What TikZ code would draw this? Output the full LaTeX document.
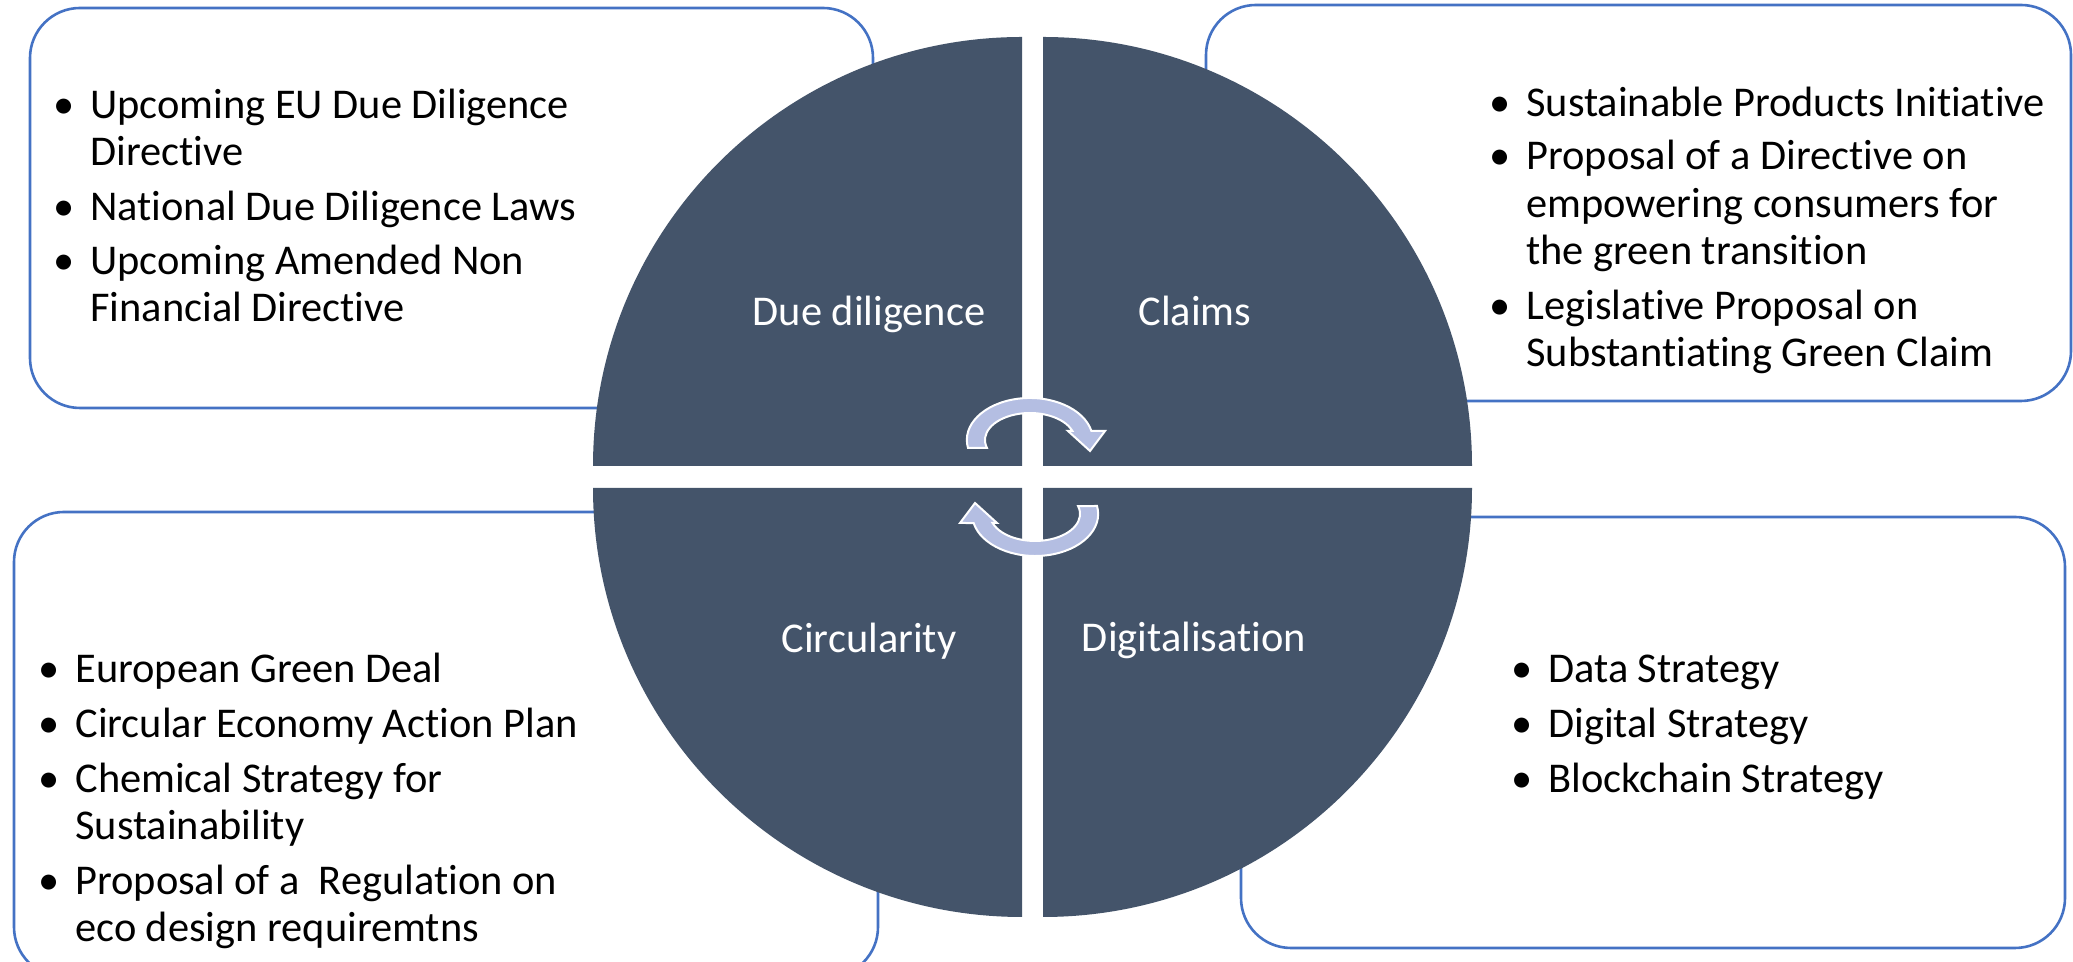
\documentclass[tikz,border=0pt]{standalone}
\usepackage{fontspec}
\setmainfont{Carlito}[Ligatures={NoCommon,NoContextual}]

\definecolor{slate}{HTML}{44546A}
\definecolor{boxblue}{HTML}{4472C4}
\definecolor{lilac}{HTML}{B4BEE2}

\tikzset{
  panel/.style={draw=boxblue, line width=1.3pt, rounded corners=25pt, fill=white},
  quarter/.style={fill=slate},
  swirl/.style={fill=lilac, draw=white, line width=1pt},
  item/.style={anchor=base west, inner sep=0pt, font=\fontsize{21.2}{23}\selectfont},
  dot/.style={anchor=base west, inner sep=0pt, font=\fontsize{21.2}{23}\selectfont},
  tag/.style={anchor=base, inner sep=0pt, text=white, font=\fontsize{21.2}{23}\selectfont}
}

% one line of a list, with its bullet
\newcommand{\bline}[4]{\node[item] (#1) at (#2,#3) {#4};
  \node[dot] (#1-dot) at ([xshift=-18.5pt]#1.base west) {\textbullet};}
% one line without a bullet
\newcommand{\pline}[4]{\node[item] (#1) at (#2,#3) {#4};}

% circular arrow over the top
\newcommand{\swirlpath}{(968,514) arc[start angle=191, end angle=12.4, x radius=63, y radius=42]
  -- (1105,531) -- (1090,511) -- (1068,531) -- (1072.4,531)
  arc[start angle=19.5, end angle=197, x radius=45, y radius=27] -- cycle}

\begin{document}
\begin{tikzpicture}[x=0.5pt, y=0.5pt]

  \useasboundingbox (0,0) rectangle (2073,962);
  \clip (0,0) rectangle (2073,962);

  % the four boxes
  \draw[panel] (30,554) rectangle (873,954);    % top left
  \draw[panel] (1206,561) rectangle (2071,957); % top right
  \draw[panel] (14,-15) rectangle (878,450);    % bottom left
  \draw[panel] (1241,14) rectangle (2065,445);  % bottom right

  % the four quarters of the disc
  \fill[quarter] (1022,496) -- (593,496) arc[start angle=180, end angle=90, radius=429] -- cycle;
  \fill[quarter] (1043,496) -- (1043,925) arc[start angle=90, end angle=0, radius=429] -- cycle;
  \fill[quarter] (1022,474) -- (1022,45) arc[start angle=270, end angle=180, radius=429] -- cycle;
  \fill[quarter] (1043,474) -- (1472,474) arc[start angle=0, end angle=-90, radius=429] -- cycle;

  % arrows in the middle
  \filldraw[swirl] \swirlpath;
  \begin{scope}[rotate around={180:(1032.5,485)}]
    \filldraw[swirl] \swirlpath;
  \end{scope}

  % names of the quarters
  \node[tag] (due) at (869,636) {Due diligence};
  \node[tag] (claims) at (1195,636) {Claims};
  \node[tag] (circ) at (869,309) {Circularity};
  \node[tag] (digi) at (1194,310) {Digitalisation};

  % top left list
  \bline{dd1}{90}{843}{Upcoming EU Due Diligence}
  \pline{dd1b}{90}{796}{Directive}
  \bline{dd2}{90}{741}{National Due Diligence Laws}
  \bline{dd3}{90}{687}{Upcoming Amended Non}
  \pline{dd3b}{90}{640}{Financial Directive}

  % top right list
  \bline{cl1}{1526}{845}{Sustainable Products Initiative}
  \bline{cl2}{1526}{792}{Proposal of a Directive on}
  \pline{cl2b}{1526}{744}{empowering consumers for}
  \pline{cl2c}{1526}{697}{the green transition}
  \bline{cl3}{1526}{642}{Legislative Proposal on}
  \pline{cl3b}{1526}{595}{Substantiating Green Claim}

  % bottom left list
  \bline{ci1}{75}{279}{European Green Deal}
  \bline{ci2}{75}{224}{Circular Economy Action Plan}
  \bline{ci3}{75}{169}{Chemical Strategy for}
  \pline{ci3b}{75}{122}{Sustainability}
  \bline{ci4}{75}{67}{Proposal of a~ Regulation on}
  \pline{ci4b}{75}{20}{eco design requiremtns}

  % bottom right list
  \bline{dg1}{1548}{279}{Data Strategy}
  \bline{dg2}{1548}{224}{Digital Strategy}
  \bline{dg3}{1548}{169}{Blockchain Strategy}

\end{tikzpicture}
\end{document}
